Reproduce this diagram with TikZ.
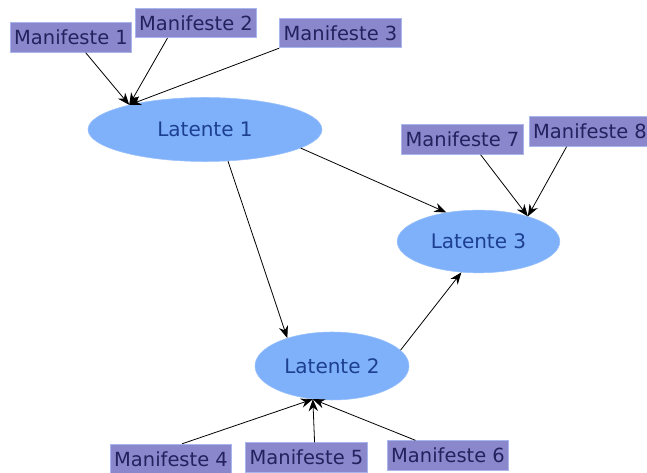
\documentclass[tikz,border=0pt]{standalone}
\usepackage{fontspec}
\setmainfont{DejaVu Sans}
\usetikzlibrary{shapes.geometric,arrows.meta}
\definecolor{manifill}{HTML}{8B87CC}
\definecolor{maniline}{HTML}{A9B6EC}
\definecolor{manitext}{HTML}{24215E}
\definecolor{latfill}{HTML}{7FB1FB}
\definecolor{lattext}{HTML}{1D3F8F}
\tikzset{
  manifest/.style={draw=maniline,fill=manifill,text=manitext,line width=0.8pt,
    inner xsep=3pt,inner ysep=0pt,minimum height=22pt,font=\fontsize{14.6}{16}\selectfont},
  latent/.style={ellipse,fill=latfill,draw=latfill!80!white,text=lattext,inner sep=0pt,
    font=\fontsize{15}{16}\selectfont},
  link/.style={-{Stealth[length=9pt,width=7pt]},line width=0.6pt}
}
\begin{document}
\begin{tikzpicture}[x=0.75pt,y=0.75pt,yscale=-1,xscale=1]
    \useasboundingbox (0,0) rectangle (647,473);
    % Latent variables
    \node [latent,minimum width=175.5pt,minimum height=48pt] (lat1) at (205,129.5) {Latente 1\hspace{10pt}};
    \node [latent,minimum width=115.5pt,minimum height=51pt] (lat2) at (332,366) {Latente 2\hspace{14pt}};
    \node [latent,minimum width=122pt,minimum height=47pt] (lat3) at (478.5,241.5) {Latente 3\hspace{12pt}};
    % Manifest variables
    \node [manifest] (man1) at (71,37.5) {Manifeste 1};
    \node [manifest] (man2) at (196,23) {Manifeste 2};
    \node [manifest] (man3) at (340.5,33) {Manifeste 3};
    \node [manifest] (man4) at (171,459) {Manifeste 4};
    \node [manifest] (man5) at (306.5,457.5) {Manifeste 5};
    \node [manifest] (man6) at (448,455.5) {Manifeste 6};
    \node [manifest] (man7) at (462.5,139.5) {Manifeste 7};
    \node [manifest] (man8) at (590,131.5) {Manifeste 8};
    % Indicators
    \draw [link] (man1.-46) -- (lat1.162);
    \draw [link] (man2.-152) -- (lat1.162);
    \draw [link] (man3.south west) -- (lat1.162);
    \draw [link] (man7.-40) -- (lat3.27);
    \draw [link] (man8.-147) -- (lat3.27);
    \draw [link] (man4.54) -- (lat2.-120);
    \draw [link] (man5.62) -- (lat2.-120);
    \draw [link] (man6.155) -- (lat2.-120);
    % Structural paths
    \draw [link] (lat1.-11) -- (lat3.138);
    \draw [link] (lat1.-54) -- (lat2.148);
    \draw [link] (lat2.13) -- (lat3.-119);
\end{tikzpicture}
\end{document}
